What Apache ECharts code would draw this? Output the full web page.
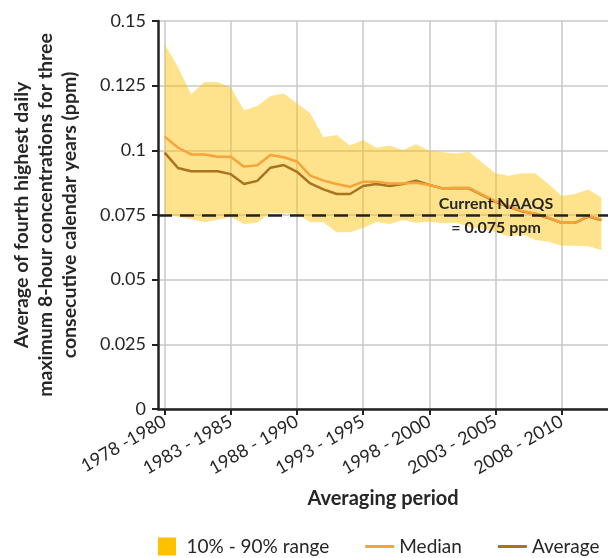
<!DOCTYPE html>
<html>
<head>
<meta charset="utf-8">
<script src="https://cdn.jsdelivr.net/npm/echarts@6/dist/echarts.min.js"></script>
<style>
html,body{margin:0;padding:0;background:#fff;}
#chart{width:608px;height:558px;}
</style>
</head>
<body>
<div id="chart"></div>
<script>
var categories = [
  "1978 -1980","1979 - 1981","1980 - 1982","1981 - 1983","1982 - 1984",
  "1983 - 1985","1984 - 1986","1985 - 1987","1986 - 1988","1987 - 1989",
  "1988 - 1990","1989 - 1991","1990 - 1992","1991 - 1993","1992 - 1994",
  "1993 - 1995","1994 - 1996","1995 - 1997","1996 - 1998","1997 - 1999",
  "1998 - 2000","1999 - 2001","2000 - 2002","2001 - 2003","2002 - 2004",
  "2003 - 2005","2004 - 2006","2005 - 2007","2006 - 2008","2007 - 2009",
  "2008 - 2010","2009 - 2011","2010 - 2012","2011 - 2013"
];
var p10 = [
  0.0750,0.0743,0.0734,0.0722,0.0732,0.0743,0.0715,0.0720,0.0759,0.0756,
  0.0756,0.0722,0.0722,0.0683,0.0683,0.0700,0.0723,0.0715,0.0731,0.0720,
  0.0724,0.0718,0.0720,0.0705,0.0695,0.0684,0.0666,0.0676,0.0653,0.0647,
  0.0631,0.0631,0.0629,0.0615
];
var p90 = [
  0.1411,0.1323,0.1217,0.1264,0.1264,0.1243,0.1155,0.1171,0.1210,0.1220,
  0.1182,0.1143,0.1051,0.1059,0.1019,0.1040,0.1010,0.1019,0.1001,0.1024,
  0.0998,0.0993,0.0988,0.0995,0.0952,0.0911,0.0902,0.0911,0.0911,0.0870,
  0.0823,0.0831,0.0849,0.0818
];
var median = [
  0.1053,0.1011,0.0984,0.0984,0.0975,0.0975,0.0937,0.0942,0.0982,0.0973,
  0.0957,0.0902,0.0883,0.0870,0.0859,0.0879,0.0879,0.0872,0.0872,0.0875,
  0.0866,0.0853,0.0855,0.0855,0.0829,0.0803,0.0784,0.0766,0.0756,0.0740,
  0.0720,0.0720,0.0746,0.0733
];
var average = [
  0.0991,0.0932,0.0919,0.0919,0.0919,0.0908,0.0870,0.0882,0.0933,0.0943,
  0.0917,0.0872,0.0849,0.0831,0.0831,0.0862,0.0870,0.0862,0.0870,0.0883,
  0.0866,0.0853,0.0853,0.0853,0.0827,0.0801,0.0782,0.0764,0.0754,0.0738,
  0.0720,0.0720,0.0744,0.0731
];
var yTicks = { min: 0, max: 0.15, interval: 0.025 };
var naaqs = 0.075;

var rangeSpan = p90.map(function (v, i) { return +(v - p10[i]).toFixed(4); });

var TXT = '#262626';
var FONT = 'Lato';
var chart = echarts.init(document.getElementById('chart'), null, { renderer: 'canvas' });
chart.setOption({
  animation: false,
  backgroundColor: '#ffffff',
  textStyle: { fontFamily: FONT, color: TXT },
  grid: { left: 158, top: 21, width: 453, height: 388, containLabel: false },
  legend: {
    left: 158, top: 537, width: 450, padding: 0, itemGap: 36, itemWidth: 29, itemHeight: 18,
    textStyle: { fontFamily: FONT, fontSize: 19, color: TXT },
    data: [
      { name: '10% - 90% range', icon: 'path://M0,0h18v18h-18z' },
      { name: 'Median', icon: 'path://M0,0h29v3h-29z' },
      { name: 'Average', icon: 'path://M0,0h29v3h-29z' }
    ]
  },
  xAxis: {
    type: 'category',
    data: categories,
    boundaryGap: true,
    name: 'Averaging period',
    nameLocation: 'middle',
    nameGap: 80,
    nameTextStyle: { fontFamily: FONT, fontWeight: 'bold', fontSize: 20, color: TXT },
    axisLine: { show: true, lineStyle: { color: '#222', width: 2.5 } },
    axisTick: { show: true, interval: 4, alignWithLabel: true, length: 6, lineStyle: { color: '#222', width: 2 } },
    axisLabel: { interval: 4, rotate: 30, margin: 11, fontFamily: FONT, fontSize: 18, color: TXT },
    splitLine: { show: true, interval: 4, alignWithLabel: true, lineStyle: { color: '#c8c8c8', width: 1.5 } }
  },
  yAxis: {
    type: 'value',
    min: yTicks.min, max: yTicks.max, interval: yTicks.interval,
    name: 'Average of fourth highest daily\nmaximum 8-hour concentrations for three\nconsecutive calendar years (ppm)',
    nameLocation: 'middle',
    nameRotate: 90,
    nameGap: 76,
    nameTextStyle: { fontFamily: FONT, fontWeight: 'bold', fontSize: 19.5, color: TXT, lineHeight: 24, align: 'center' },
    axisLine: { show: true, lineStyle: { color: '#222', width: 2.5 } },
    axisTick: { show: true, length: 6, lineStyle: { color: '#222', width: 2 } },
    axisLabel: {
      margin: 12, fontFamily: FONT, fontSize: 18, color: TXT,
      formatter: function (v) { return String(+v.toFixed(3)); }
    },
    splitLine: { show: true, lineStyle: { color: '#c8c8c8', width: 1.5 } }
  },
  series: [
    {
      name: 'p10', type: 'line', stack: 'range', data: p10,
      symbol: 'none', silent: true,
      lineStyle: { width: 0, opacity: 0 },
      itemStyle: { color: 'rgba(0,0,0,0)' }
    },
    {
      name: '10% - 90% range', type: 'line', stack: 'range', data: rangeSpan,
      symbol: 'none', silent: true,
      itemStyle: { color: '#FFC000' },
      lineStyle: { width: 0, opacity: 0 },
      areaStyle: { color: 'rgba(255,192,0,0.45)', opacity: 1 }
    },
    {
      name: 'Average', type: 'line', data: average, symbol: 'none', z: 3,
      itemStyle: { color: '#A8741F' },
      lineStyle: { color: '#A8741F', width: 2.5 }
    },
    {
      name: 'Median', type: 'line', data: median, symbol: 'none', z: 4,
      itemStyle: { color: '#F7A33B' },
      lineStyle: { color: '#F7A33B', width: 2.5 },
      markLine: {
        silent: true, symbol: 'none', z: 10, precision: 4,
        label: { show: false },
        lineStyle: { color: '#222', width: 2.5, type: [14, 8] },
        data: [{ yAxis: naaqs }]
      }
    }
  ],
  graphic: [
    { type: 'text', x: 496, y: 204, z: 100,
      style: { text: 'Current NAAQS', font: 'bold 16px Lato', fill: TXT, align: 'center', verticalAlign: 'middle' } },
    { type: 'text', x: 496, y: 228, z: 100,
      style: { text: '= 0.075 ppm', font: 'bold 16px Lato', fill: TXT, align: 'center', verticalAlign: 'middle' } }
  ]
});
</script>
</body>
</html>
